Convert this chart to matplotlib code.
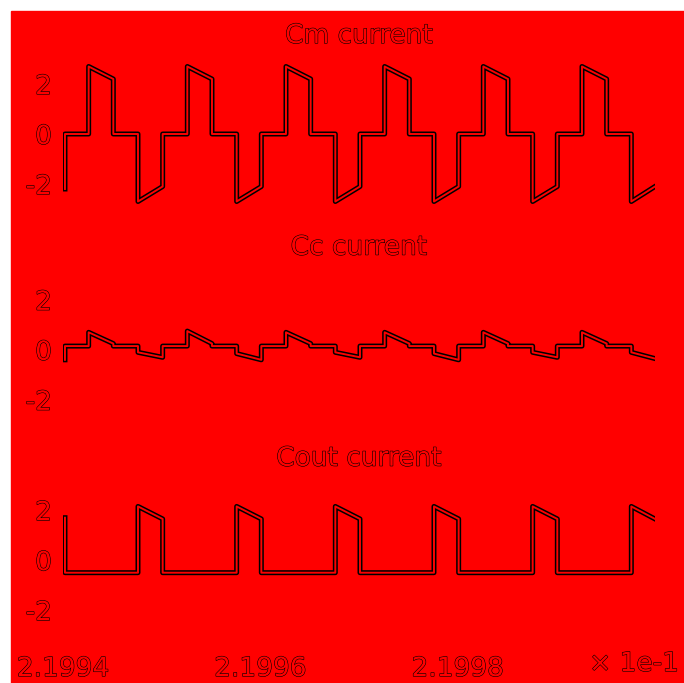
import numpy as np
import matplotlib.pyplot as plt
import matplotlib.patheffects as pe
from matplotlib.patches import Rectangle

plt.rcParams['axes.unicode_minus'] = False

# time axis: edges of each quarter-period, microseconds after t0
t0 = 0.21994
edges_us = [0.2, 2.6, 5.1, 7.6, 10.1, 12.6, 15.1, 17.6, 20.1, 22.6, 25.1, 27.6,
            30.1, 32.6, 35.1, 37.6, 40.1, 42.6, 45.1, 47.6, 50.1, 52.6, 55.1,
            57.6, 60.0]

# Cm current: value at start / end of each segment
cm_first = -2.2
cm_start = [0, 2.7, 0, -2.7, 0, 2.7, 0, -2.7, 0, 2.7, 0, -2.7,
            0, 2.7, 0, -2.7, 0, 2.7, 0, -2.7, 0, 2.7, 0, -2.7]
cm_end = [0, 2.2, 0, -2.1, 0, 2.2, 0, -2.1, 0, 2.2, 0, -2.1,
          0, 2.2, 0, -2.1, 0, 2.2, 0, -2.1, 0, 2.2, 0, -2.1]

# Cc current
cc_first = -0.4
cc_start = [0.15, 0.7, 0.15, -0.1, 0.15, 0.75, 0.15, -0.15, 0.15, 0.7, 0.15, -0.1,
            0.15, 0.7, 0.15, -0.15, 0.15, 0.7, 0.15, -0.1, 0.15, 0.7, 0.15, -0.1]
cc_end = [0.15, 0.25, 0.15, -0.3, 0.15, 0.25, 0.15, -0.4, 0.15, 0.25, 0.15, -0.3,
          0.15, 0.25, 0.15, -0.4, 0.15, 0.25, 0.15, -0.3, 0.15, 0.25, 0.15, -0.35]

# Cout current
cout_first = 1.7
cout_start = [-0.5, -0.5, -0.5, 2.15, -0.5, -0.5, -0.5, 2.15, -0.5, -0.5, -0.5, 2.15,
              -0.5, -0.5, -0.5, 2.15, -0.5, -0.5, -0.5, 2.15, -0.5, -0.5, -0.5, 2.15]
cout_end = [-0.5, -0.5, -0.5, 1.65, -0.5, -0.5, -0.5, 1.65, -0.5, -0.5, -0.5, 1.65,
            -0.5, -0.5, -0.5, 1.65, -0.5, -0.5, -0.5, 1.65, -0.5, -0.5, -0.5, 1.65]

titles = ['Cm current', 'Cc current', 'Cout current']
yticks = [-2, 0, 2]
xticks = [0.21994, 0.21996, 0.21998]
xticklabels = ['2.1994', '2.1996', '2.1998']


def vertices(first, starts, ends):
    t = [edges_us[0]]
    y = [first]
    for i in range(len(starts)):
        t += [edges_us[i], edges_us[i + 1]]
        y += [starts[i], ends[i]]
    return t0 + np.array(t) * 1e-6, np.array(y)


outline = [pe.withStroke(linewidth=0.8, foreground='black')]
line_fx = [pe.Stroke(linewidth=3.6, foreground='black'), pe.Normal()]

fig = plt.figure(figsize=(6.84, 6.83), dpi=100, facecolor='white')
fig.patches.append(Rectangle((11 / 684, 0), 1 - 11 / 684, 1 - 11 / 683,
                             transform=fig.transFigure, color='red', zorder=-10))

series = [(cm_first, cm_start, cm_end), (cc_first, cc_start, cc_end),
          (cout_first, cout_start, cout_end)]
bottoms = [0.694, 0.378, 0.070]
title_pads = [11.5, 14.5, 14]

for k, (first, s, e) in enumerate(series):
    ax = fig.add_axes([63 / 684, bottoms[k], 592 / 684, 150 / 683])
    ax.set_facecolor('none')
    t, y = vertices(first, s, e)
    ax.plot(t, y, color='red', lw=1.4, path_effects=line_fx)
    ax.set_xlim(0.21994, 0.22000)
    ax.set_ylim(-3, 3)
    for sp in ax.spines.values():
        sp.set_visible(False)
    ax.set_yticks(yticks)
    ax.tick_params(length=0, labelsize=19, labelcolor='red', pad=8)
    if k == 2:
        ax.set_xticks(xticks)
        ax.set_xticklabels(xticklabels)
        ax.tick_params(axis='x', pad=15)
    else:
        ax.set_xticks([])
    for lab in ax.get_xticklabels() + ax.get_yticklabels():
        lab.set_path_effects(outline)
    ttl = ax.set_title(titles[k], fontsize=19, color='red', pad=title_pads[k])
    ttl.set_path_effects(outline)

fig.text(634 / 684, 1 - 664 / 683, '\u00d7 1e-1', fontsize=19, color='red',
         ha='center', va='center', path_effects=outline)

fig.savefig('out.png', dpi=100, facecolor=fig.get_facecolor())
